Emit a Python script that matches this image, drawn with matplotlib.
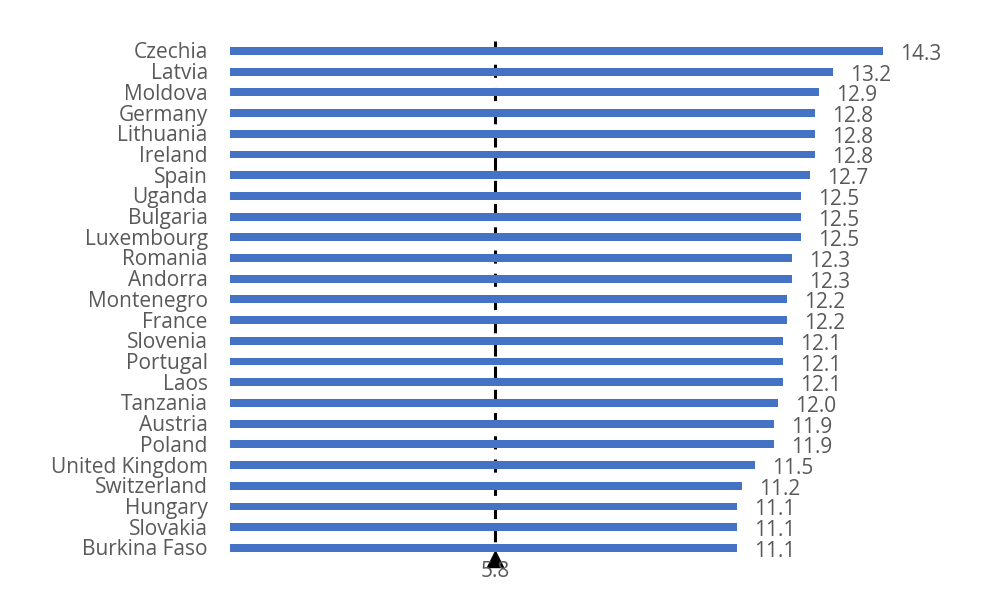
import matplotlib
matplotlib.use('Agg')
import matplotlib.pyplot as plt
from matplotlib.transforms import ScaledTranslation

plt.rcParams['font.family'] = ['Open Sans', 'DejaVu Sans']

countries = ['Czechia', 'Latvia', 'Moldova', 'Germany', 'Lithuania', 'Ireland', 'Spain',
             'Uganda', 'Bulgaria', 'Luxembourg', 'Romania', 'Andorra', 'Montenegro',
             'France', 'Slovenia', 'Portugal', 'Laos', 'Tanzania', 'Austria', 'Poland',
             'United Kingdom', 'Switzerland', 'Hungary', 'Slovakia', 'Burkina Faso']
values = [14.3, 13.2, 12.9, 12.8, 12.8, 12.8, 12.7, 12.5, 12.5, 12.5, 12.3, 12.3, 12.2,
          12.2, 12.1, 12.1, 12.1, 12.0, 11.9, 11.9, 11.5, 11.2, 11.1, 11.1, 11.1]
ref_value = 5.8

txt_color = '#595959'
fs = 15

fig = plt.figure(figsize=(9.96, 6.16), dpi=100)
ax = fig.add_axes([230 / 996, 36 / 616, 731 / 996, 550 / 616])

ypos = list(range(len(countries)))

# reference line, drawn under the bars
ax.plot([ref_value, ref_value], [-0.5, 24.2], color='black', lw=2.2,
        ls=(0, (4.3, 3.3)), zorder=1)
ax.plot([ref_value], [24.54], marker='^', color='black', markersize=12, clip_on=False, zorder=1)

ax.barh(ypos, values, height=0.38, color='#4472C4', zorder=2)

# baseline offsets so the capitals sit centred on the bars
val_off = ScaledTranslation(0, -0.09, fig.dpi_scale_trans)
for y, v in zip(ypos, values):
    ax.text(v + 0.37, y, '%.1f' % v, ha='left', va='baseline', fontsize=fs,
            color=txt_color, transform=ax.transData + val_off)

ax.set_yticks(ypos)
ax.set_yticklabels(countries, fontsize=fs, color=txt_color, va='baseline')
ax.tick_params(axis='y', length=0, pad=16)
lab_off = ScaledTranslation(0, -0.075, fig.dpi_scale_trans)
for lbl in ax.get_yticklabels():
    lbl.set_transform(lbl.get_transform() + lab_off)

ax.set_xlim(0, 16)
ax.set_ylim(25.55, -1.01)
ax.set_xticks([])
for s in ax.spines.values():
    s.set_visible(False)

ax.text(ref_value, 25.41, '5.8', ha='center', va='baseline', fontsize=fs, color=txt_color,
        zorder=3)

fig.savefig('out.png', dpi=100)
